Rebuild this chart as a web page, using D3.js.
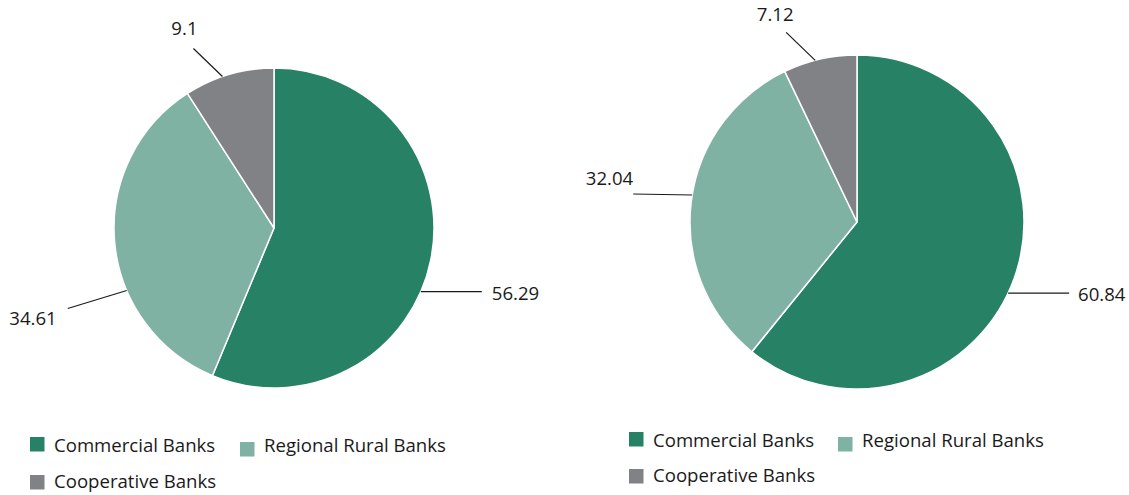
<!DOCTYPE html>
<html><head><meta charset="utf-8">
<script src="https://cdn.jsdelivr.net/npm/d3@7"></script>
<style>
html,body{margin:0;padding:0;background:#fff;}
text{font-family:"Open Sans","Noto Sans",sans-serif;fill:#1a1a1a;}
</style></head>
<body>
<svg id="chart" width="1129" height="495"></svg>
<script>
// ---- data ----
const categories = ["Commercial Banks", "Regional Rural Banks", "Cooperative Banks"];
const valuesLeft = [56.29, 34.61, 9.1];
const valuesRight = [60.84, 32.04, 7.12];
const labelsLeft = ["56.29", "34.61", "9.1"];
const labelsRight = ["60.84", "32.04", "7.12"];
const colors = ["#278164", "#7fb2a2", "#818286"];

// ---- layout (not data) ----
const svg = d3.select("#chart");
const FS = 18.6;
const pies = [
  { values: valuesLeft, labels: labelsLeft, cx: 274, cy: 228, r: 160,
    leaders: [
      { angle: 113.4, dx: 61, dy: 0, tx: 10, ty: 8, anchor: "start" },
      { angle: 247, dx: -59, dy: 18, tx: -11, ty: 16, anchor: "end" },
      { angle: 341.2, dx: -29, dy: -28, tx: -9, ty: -14, anchor: "middle" }
    ],
    legend: { x: 30, row1: 452, row2: 488, col2: 240 } },
  { values: valuesRight, labels: labelsRight, cx: 857, cy: 222, r: 167,
    leaders: [
      { angle: 115.2, dx: 61, dy: 0, tx: 9, ty: 8, anchor: "start" },
      { angle: 279.3, dx: -59, dy: -1, tx: 0, ty: -9, anchor: "end" },
      { angle: 345.5, dx: -29, dy: -28, tx: -11, ty: -11, anchor: "middle" }
    ],
    legend: { x: 629, row1: 447, row2: 482, col2: 838 } }
];

const color = d3.scaleOrdinal().domain(categories).range(colors);
const pieGen = d3.pie().sort(null).value(d => d);

pies.forEach(p => {
  const g = svg.append("g").attr("transform", `translate(${p.cx},${p.cy})`);
  const arc = d3.arc().innerRadius(0).outerRadius(p.r);
  const arcsData = pieGen(p.values);
  g.selectAll("path.slice").data(arcsData).enter().append("path")
    .attr("class", "slice")
    .attr("d", arc)
    .attr("fill", (d, i) => color(categories[i]))
    .attr("stroke", "#fff")
    .attr("stroke-width", 1.5)
    .attr("stroke-linejoin", "round");

  // leader lines and labels
  arcsData.forEach((d, i) => {
    const L = p.leaders[i];
    const a = L.angle * Math.PI / 180;
    const sx = Math.sin(a) * p.r, sy = -Math.cos(a) * p.r;
    const ex = sx + L.dx, ey = sy + L.dy;
    g.append("line")
      .attr("x1", sx).attr("y1", sy).attr("x2", ex).attr("y2", ey)
      .attr("stroke", "#1a1a1a").attr("stroke-width", 1.2);
    g.append("text")
      .attr("x", ex + L.tx).attr("y", ey + L.ty)
      .attr("text-anchor", L.anchor)
      .attr("font-size", FS)
      .text(p.labels[i]);
  });

  // legend
  const lg = p.legend;
  const items = [
    { i: 0, x: lg.x, base: lg.row1, sq: -15 },
    { i: 1, x: lg.col2, base: lg.row1, sq: -10 },
    { i: 2, x: lg.x, base: lg.row2, sq: -13 }
  ];
  items.forEach(it => {
    svg.append("rect")
      .attr("x", it.x).attr("y", it.base + it.sq)
      .attr("width", 14.5).attr("height", 14.5)
      .attr("fill", color(categories[it.i]));
    svg.append("text")
      .attr("x", it.x + 24).attr("y", it.base)
      .attr("font-size", FS)
      .text(categories[it.i]);
  });
});
</script>
</body></html>
